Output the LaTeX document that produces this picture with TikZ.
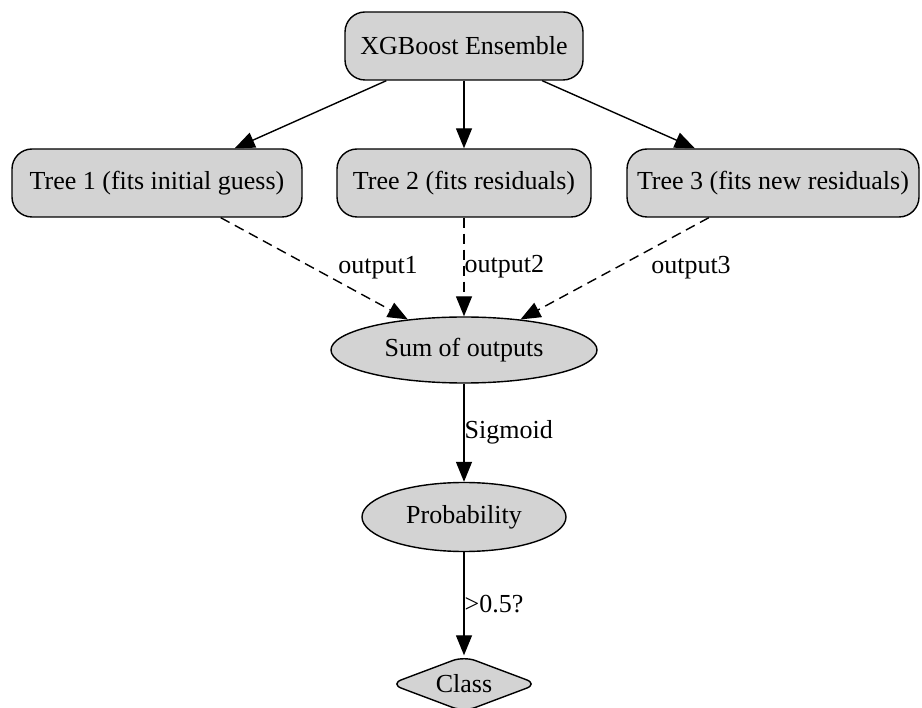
\documentclass[tikz,border=0pt]{standalone}
\usepackage{fontspec}
\setmainfont{Liberation Serif}
\usetikzlibrary{arrows.meta,shapes.geometric}
\begin{document}
\begin{tikzpicture}[x=1pt,y=-1pt,
  every node/.style={font=\fontsize{26pt}{30pt}\selectfont},
  box/.style={draw=black, line width=1.4pt, fill=boxgray, rounded corners=20pt, minimum height=68pt, inner sep=0pt},
  oval/.style={draw=black, line width=1.4pt, fill=boxgray, ellipse, inner sep=0pt},
  dia/.style={draw=black, line width=1.4pt, fill=boxgray, diamond, rounded corners=12pt, inner sep=0pt, aspect=2.7},
  conn/.style={line width=1.4pt, -{Triangle[length=20pt,width=16pt]}},
  dconn/.style={conn, dash pattern=on 10pt off 6pt},
  lbl/.style={inner sep=0pt}
]
\definecolor{boxgray}{HTML}{D3D3D3}
\useasboundingbox (0,0) rectangle (922,708);

\node[box, minimum width=238pt] (xgb) at (464,46) {XGBoost Ensemble};
\node[box, minimum width=290pt] (t1) at (157,183) {Tree 1 (fits initial guess)};
\node[box, minimum width=254pt] (t2) at (464,183) {Tree 2 (fits residuals)};
\node[box, minimum width=292pt] (t3) at (773,183) {Tree 3 (fits new residuals)};
\node[oval, minimum width=266pt, minimum height=66pt] (sum) at (464,350) {Sum of outputs};
\node[oval, minimum width=204pt, minimum height=69pt] (prob) at (464,517) {Probability};
\node[dia, minimum width=148pt, minimum height=56pt] (cls) at (464,684) {Class};

\draw[conn] (xgb) -- (t1);
\draw[conn] (xgb) -- (t2);
\draw[conn] (xgb) -- (t3);

\draw[dconn] (t1) -- (sum);
\draw[dconn] (t2) -- node[lbl, anchor=west, pos=0.5] (l2) {output2} (sum);
\draw[dconn] (t3) -- (sum);
\node[lbl] (l1) at (378,268) {output1};
\node[lbl] (l3) at (691,268) {output3};

\draw[conn] (sum) -- node[lbl, anchor=west, pos=0.5] (ls) {Sigmoid} (prob);
\draw[conn] (prob) -- node[lbl, anchor=west, pos=0.5] (lc) {>0.5?} (cls);
\end{tikzpicture}
\end{document}
